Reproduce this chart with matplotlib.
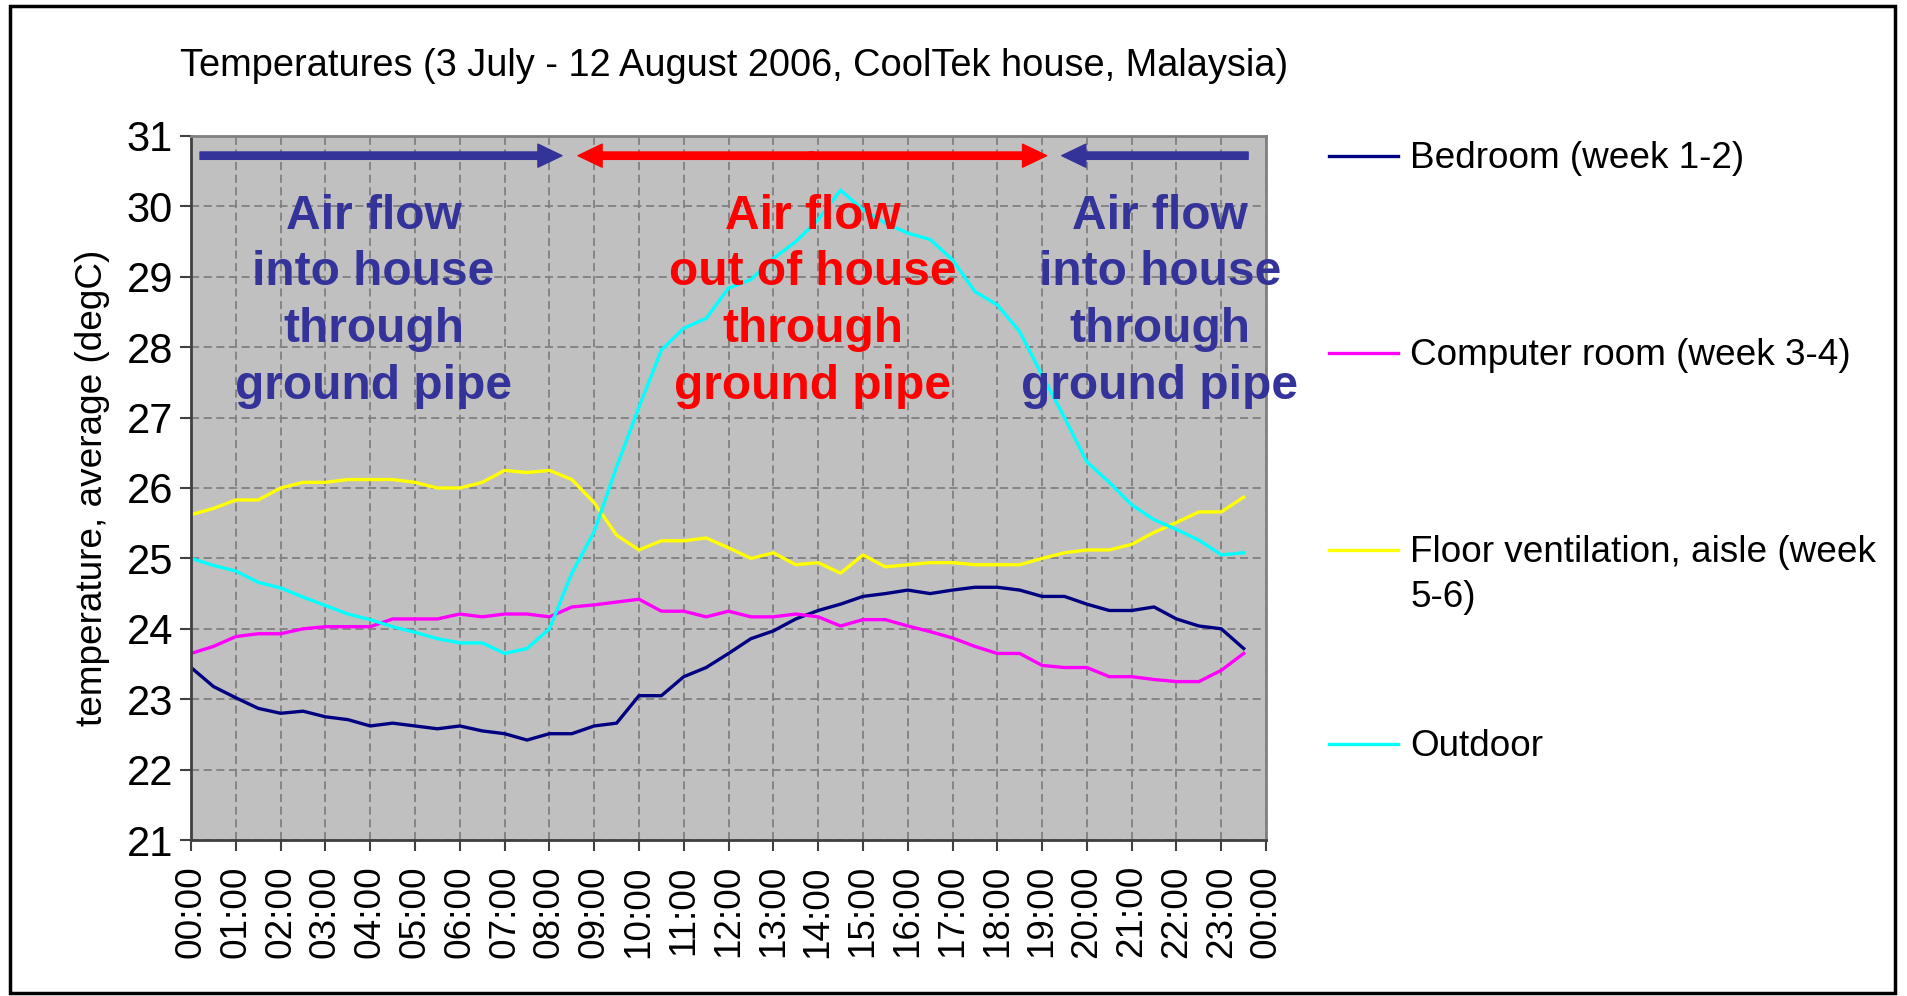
import numpy as np
import matplotlib
matplotlib.use("Agg")
import matplotlib.pyplot as plt
from matplotlib.patches import FancyArrowPatch, Rectangle
from matplotlib.lines import Line2D

plt.rcParams['font.family'] = ['Liberation Sans', 'DejaVu Sans']

# half-hour readings, 00:00 .. 23:30
half_hours = np.arange(0, 24, 0.5)

bedroom = [23.45, 23.18, 23.02, 22.87, 22.80, 22.83, 22.75, 22.71, 22.62, 22.66,
           22.62, 22.58, 22.62, 22.55, 22.51, 22.42, 22.51, 22.51, 22.62, 22.66,
           23.05, 23.05, 23.32, 23.45, 23.65, 23.86, 23.97, 24.14, 24.26, 24.35,
           24.46, 24.50, 24.55, 24.50, 24.55, 24.59, 24.59, 24.55, 24.46, 24.46,
           24.35, 24.26, 24.26, 24.31, 24.14, 24.04, 24.00, 23.72]
computer = [23.65, 23.75, 23.89, 23.93, 23.93, 24.00, 24.03, 24.03, 24.03, 24.14,
            24.14, 24.14, 24.21, 24.17, 24.21, 24.21, 24.17, 24.31, 24.34, 24.38,
            24.42, 24.25, 24.25, 24.17, 24.25, 24.17, 24.17, 24.21, 24.17, 24.04,
            24.13, 24.13, 24.04, 23.96, 23.87, 23.75, 23.65, 23.65, 23.48, 23.45,
            23.45, 23.32, 23.32, 23.28, 23.25, 23.25, 23.41, 23.65]
floor = [25.62, 25.71, 25.83, 25.83, 26.00, 26.08, 26.08, 26.12, 26.12, 26.12,
         26.08, 26.00, 26.00, 26.08, 26.25, 26.22, 26.25, 26.12, 25.79, 25.33,
         25.12, 25.25, 25.25, 25.29, 25.15, 25.00, 25.08, 24.91, 24.94, 24.79,
         25.05, 24.88, 24.91, 24.94, 24.94, 24.91, 24.91, 24.91, 25.00, 25.08,
         25.12, 25.12, 25.20, 25.37, 25.51, 25.66, 25.66, 25.87]
outdoor = [25.00, 24.90, 24.82, 24.66, 24.58, 24.45, 24.33, 24.21, 24.13, 24.03,
           23.95, 23.86, 23.80, 23.80, 23.65, 23.72, 24.00, 24.79, 25.38, 26.30,
           27.15, 27.96, 28.27, 28.41, 28.84, 28.96, 29.26, 29.50, 29.81, 30.23,
           29.95, 29.76, 29.62, 29.53, 29.24, 28.79, 28.60, 28.22, 27.60, 27.00,
           26.37, 26.08, 25.76, 25.55, 25.41, 25.26, 25.05, 25.08]

series = [
    ("Bedroom (week 1-2)", bedroom, "#000080"),
    ("Computer room (week 3-4)", computer, "#FF00FF"),
    ("Floor ventilation, aisle (week\n5-6)", floor, "#FFFF00"),
    ("Outdoor", outdoor, "#00FFFF"),
]
tick_labels = ["%02d:00" % (h % 24) for h in range(25)]

blue = "#333399"
fs = 26.6

fig = plt.figure(figsize=(19.07, 9.96), dpi=100)
ax = fig.add_axes([0.1002, 0.1566, 0.5637, 0.7069])
ax.set_facecolor("#C0C0C0")

for name, vals, col in series:
    ax.plot(half_hours, vals, color=col, lw=2.4, label=name)

ax.set_xlim(0, 24)
ax.set_ylim(21, 31)
ax.set_xticks(range(25))
ax.set_xticklabels(tick_labels, rotation=90)
ax.set_yticks(range(21, 32))
ax.grid(True, color="#808080", linestyle=(0, (4.5, 2.5)), lw=1.3)
ax.set_axisbelow(True)
for s in ["left", "bottom"]:
    ax.spines[s].set_color("#404040")
    ax.spines[s].set_linewidth(2)
for s in ["top", "right"]:
    ax.spines[s].set_color("#808080")
    ax.spines[s].set_linewidth(2)
ax.tick_params(axis="both", direction="out", length=8, width=1.5,
               color="#404040", labelsize=fs)
ax.tick_params(axis="x", pad=10)
ax.tick_params(axis="y", pad=5, labelsize=30)
ax.set_ylabel("temperature, average (degC)", fontsize=fs, labelpad=12)

# airflow arrows
def arrow(x0, x1, col):
    a = FancyArrowPatch((x0, 30.72), (x1, 30.72), mutation_scale=1,
                        arrowstyle="simple,tail_width=5.3,head_width=16.6,head_length=17.3",
                        color=col, shrinkA=0, shrinkB=0, zorder=5)
    ax.add_patch(a)

arrow(0.2, 8.28, blue)
arrow(13.9, 8.64, "#FF0000")
arrow(13.8, 19.1, "#FF0000")
arrow(23.6, 19.44, blue)

txt_kw = dict(ha="center", va="center", fontsize=34.5, fontweight="bold",
              linespacing=1.34, clip_on=False, zorder=6)
ax.text(4.07, 28.65, "Air flow\ninto house\nthrough\nground pipe", color=blue, **txt_kw)
ax.text(13.88, 28.65, "Air flow\nout of house\nthrough\nground pipe", color="#FF0000", **txt_kw)
ax.text(21.63, 28.65, "Air flow\ninto house\nthrough\nground pipe", color=blue, **txt_kw)

fig.text(0.0944, 0.934, "Temperatures (3 July - 12 August 2006, CoolTek house, Malaysia)",
         fontsize=27.4, ha="left", va="center")

# legend, drawn by hand to keep the wide spacing of the original
leg_line_y = [0.8434, 0.6456, 0.4478, 0.2530]
leg_text_y = [0.8405, 0.6427, 0.4230, 0.2501]
for (name, vals, col), yl, yt in zip(series, leg_line_y, leg_text_y):
    fig.add_artist(Line2D([0.6969, 0.7331], [yl, yl], color=col, lw=2.4,
                          transform=fig.transFigure))
    fig.text(0.7394, yt, name, fontsize=fs, ha="left", va="center",
             linespacing=1.37)

fig.patches.append(Rectangle((0.0052, 0.003), 0.9885, 0.991, transform=fig.transFigure,
                             fill=False, lw=2.5, ec="black"))

fig.savefig("out.png", dpi=100)
